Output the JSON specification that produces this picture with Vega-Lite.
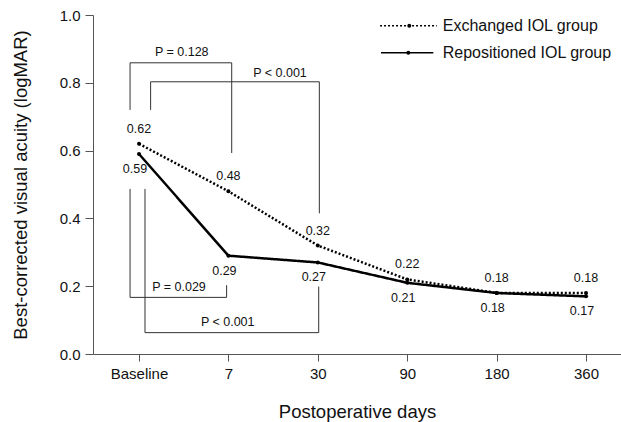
{
  "$schema": "https://vega.github.io/schema/vega-lite/v6.json",
  "width": 528,
  "height": 339,
  "autosize": "none",
  "padding": {"left": 93, "top": 15, "right": 0, "bottom": 68},
  "background": "white",
  "config": {
    "view": {"stroke": null},
    "font": "Liberation Sans",
    "axis": {"grid": false, "domainColor": "#555", "tickColor": "#555", "labelColor": "#111", "titleColor": "#111", "labelFontSize": 15, "titleFontSize": 18.5, "titleFontWeight": "normal", "labelFont": "Liberation Sans", "titleFont": "Liberation Sans"}
  },
  "datasets": {
    "series": [
      {"day": "Baseline", "pos": 0, "group": "Exchanged IOL group", "value": 0.62},
      {"day": "7", "pos": 1, "group": "Exchanged IOL group", "value": 0.48},
      {"day": "30", "pos": 2, "group": "Exchanged IOL group", "value": 0.32},
      {"day": "90", "pos": 3, "group": "Exchanged IOL group", "value": 0.22},
      {"day": "180", "pos": 4, "group": "Exchanged IOL group", "value": 0.18},
      {"day": "360", "pos": 5, "group": "Exchanged IOL group", "value": 0.18},
      {"day": "Baseline", "pos": 0, "group": "Repositioned IOL group", "value": 0.59},
      {"day": "7", "pos": 1, "group": "Repositioned IOL group", "value": 0.29},
      {"day": "30", "pos": 2, "group": "Repositioned IOL group", "value": 0.27},
      {"day": "90", "pos": 3, "group": "Repositioned IOL group", "value": 0.21},
      {"day": "180", "pos": 4, "group": "Repositioned IOL group", "value": 0.18},
      {"day": "360", "pos": 5, "group": "Repositioned IOL group", "value": 0.17}
    ],
    "brackets": [
      {"bracket": "a", "ord": 1, "x": -0.1, "y": 0.72},
      {"bracket": "a", "ord": 2, "x": -0.1, "y": 0.859},
      {"bracket": "a", "ord": 3, "x": 1.037, "y": 0.859},
      {"bracket": "a", "ord": 4, "x": 1.037, "y": 0.593},
      {"bracket": "b", "ord": 1, "x": 0.13, "y": 0.72},
      {"bracket": "b", "ord": 2, "x": 0.13, "y": 0.803},
      {"bracket": "b", "ord": 3, "x": 2.017, "y": 0.803},
      {"bracket": "b", "ord": 4, "x": 2.017, "y": 0.415},
      {"bracket": "c", "ord": 1, "x": -0.1, "y": 0.487},
      {"bracket": "c", "ord": 2, "x": -0.1, "y": 0.167},
      {"bracket": "c", "ord": 3, "x": 0.98, "y": 0.167},
      {"bracket": "c", "ord": 4, "x": 0.98, "y": 0.203},
      {"bracket": "d", "ord": 1, "x": 0.067, "y": 0.487},
      {"bracket": "d", "ord": 2, "x": 0.067, "y": 0.063},
      {"bracket": "d", "ord": 3, "x": 2.01, "y": 0.063},
      {"bracket": "d", "ord": 4, "x": 2.01, "y": 0.199}
    ],
    "ptext": [
      {"label": "P = 0.128", "x": 0.478, "y": 0.892},
      {"label": "P < 0.001", "x": 1.577, "y": 0.830},
      {"label": "P = 0.029", "x": 0.447, "y": 0.199},
      {"label": "P < 0.001", "x": 0.992, "y": 0.095}
    ],
    "legend": [
      {"group": "Exchanged IOL group", "x1": 2.696, "x2": 3.33, "xm": 3.023, "tx": 3.397, "y": 0.968},
      {"group": "Repositioned IOL group", "x1": 2.707, "x2": 3.292, "xm": 3.012, "tx": 3.397, "y": 0.889}
    ]
  },
  "layer": [
    {
      "data": {"name": "brackets"},
      "mark": {"type": "line", "stroke": "#333", "strokeWidth": 1, "interpolate": "linear"},
      "encoding": {
        "x": {"field": "x", "type": "quantitative", "scale": {"domain": [-0.5145, 5.391], "nice": false, "zero": false},
          "axis": {"values": [0, 1, 2, 3, 4, 5], "labelExpr": "['Baseline','7','30','90','180','360'][datum.value]", "tickSize": 7, "labelPadding": 5, "title": "Postoperative days", "titlePadding": 21}},
        "y": {"field": "y", "type": "quantitative", "scale": {"domain": [0, 1], "nice": false},
          "axis": {"values": [0, 0.2, 0.4, 0.6, 0.8, 1.0], "format": ".1f", "tickSize": 8, "labelPadding": 5, "title": "Best-corrected visual acuity (logMAR)", "titlePadding": 29}},
        "detail": {"field": "bracket"},
        "order": {"field": "ord", "type": "quantitative"}
      }
    },
    {
      "data": {"name": "ptext"},
      "mark": {"type": "text", "fontSize": 12.5, "baseline": "middle", "align": "center", "color": "#111"},
      "encoding": {
        "x": {"field": "x", "type": "quantitative"},
        "y": {"field": "y", "type": "quantitative"},
        "text": {"field": "label"}
      }
    },
    {
      "data": {"name": "series"},
      "mark": {"type": "line", "stroke": "black", "strokeWidth": 2.5},
      "encoding": {
        "x": {"field": "pos", "type": "quantitative"},
        "y": {"field": "value", "type": "quantitative"},
        "detail": {"field": "group"},
        "strokeDash": {"field": "group", "type": "nominal", "scale": {"domain": ["Exchanged IOL group", "Repositioned IOL group"], "range": [[2, 2], [1, 0]]}, "legend": null}
      }
    },
    {
      "data": {"name": "series"},
      "mark": {"type": "point", "filled": true, "color": "black", "size": 16, "opacity": 1},
      "encoding": {
        "x": {"field": "pos", "type": "quantitative"},
        "y": {"field": "value", "type": "quantitative"}
      }
    },
    {
      "data": {"name": "series"},
      "transform": [{"filter": "datum.group === 'Exchanged IOL group'"}],
      "mark": {"type": "text", "fontSize": 12.5, "dy": -15, "baseline": "middle", "color": "#111"},
      "encoding": {
        "x": {"field": "pos", "type": "quantitative"},
        "y": {"field": "value", "type": "quantitative"},
        "text": {"field": "value", "type": "quantitative", "format": ".2f"}
      }
    },
    {
      "data": {"name": "series"},
      "transform": [{"filter": "datum.group === 'Repositioned IOL group'"}],
      "mark": {"type": "text", "fontSize": 12.5, "dy": 15, "dx": -4, "baseline": "middle", "color": "#111"},
      "encoding": {
        "x": {"field": "pos", "type": "quantitative"},
        "y": {"field": "value", "type": "quantitative"},
        "text": {"field": "value", "type": "quantitative", "format": ".2f"}
      }
    },
    {
      "data": {"name": "legend"},
      "mark": {"type": "rule", "color": "black", "strokeWidth": 1.5},
      "encoding": {
        "x": {"field": "x1", "type": "quantitative"},
        "x2": {"field": "x2"},
        "y": {"field": "y", "type": "quantitative"},
        "strokeDash": {"field": "group", "type": "nominal", "scale": {"domain": ["Exchanged IOL group", "Repositioned IOL group"], "range": [[2, 2], [1, 0]]}, "legend": null}
      }
    },
    {
      "data": {"name": "legend"},
      "mark": {"type": "point", "filled": true, "color": "black", "size": 16, "opacity": 1},
      "encoding": {
        "x": {"field": "xm", "type": "quantitative"},
        "y": {"field": "y", "type": "quantitative"}
      }
    },
    {
      "data": {"name": "legend"},
      "mark": {"type": "text", "fontSize": 16, "align": "left", "baseline": "middle", "color": "#111"},
      "encoding": {
        "x": {"field": "tx", "type": "quantitative"},
        "y": {"field": "y", "type": "quantitative"},
        "text": {"field": "group"}
      }
    }
  ]
}
